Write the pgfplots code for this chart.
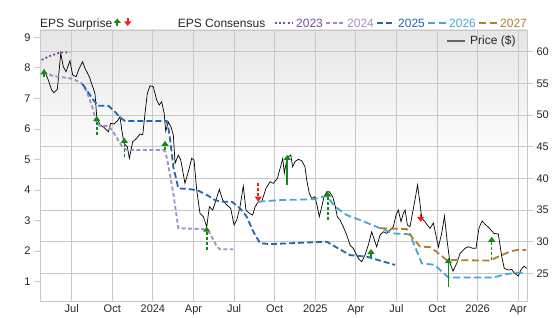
\documentclass[border=0pt]{standalone}
\usepackage{fontspec}
\setmainfont{Liberation Sans}
\usepackage{pgfplots}
\pgfplotsset{compat=1.18}
\usetikzlibrary{arrows.meta}

\definecolor{c23}{HTML}{7B4A9E}
\definecolor{c24}{HTML}{A98BC8}
\definecolor{c25}{HTML}{2366B0}
\definecolor{c26}{HTML}{46A6D6}
\definecolor{c27}{HTML}{B07F2E}
\definecolor{gup}{HTML}{138A13}
\definecolor{rdn}{HTML}{FF1A1A}
\definecolor{gridc}{HTML}{C8C8C8}

\begin{document}
\begin{tikzpicture}
\pgfplotsset{
  base/.style={scale only axis, width=487pt, height=271pt,
    xmin=3.657, xmax=39.65, at={(0pt,0pt)}, anchor=south west,
    /pgf/number format/assume math mode=true,
    tick label style={font=\fontsize{11}{13}\selectfont, color=black!85}},
  stemd/.style={line width=1.6pt, dash pattern=on 3pt off 2pt, -{Triangle[width=7pt,length=5pt]}},
  stems/.style={line width=1.6pt, -{Triangle[width=7pt,length=5pt]}},
}
% ---------------- price axis (right) ----------------
\begin{axis}[base, ymin=20.62, ymax=63.43,
  axis background/.style={top color=black!10, bottom color=white, middle color=white},
  axis line style={gridc, line width=0.8pt},
  xtick={6,9,...,39},
  xticklabels={Jul,Oct,2024,Apr,Jul,Oct,2025,Apr,Jul,Oct,2026,Apr},
  xtick pos=bottom,
  ytick={25,30,...,60}, yticklabel pos=right, ytick pos=right,
  grid=major, grid style={gridc, line width=0.8pt},
  tick align=outside, major tick length=6pt,
  xtick style={draw=none}, ytick style={draw=gridc, line width=0.8pt},
  xticklabel style={yshift=6pt}]
\addplot[black, line width=0.7pt] coordinates {
(3.95,57.22) (4.27,55.53) (4.52,53.95) (4.69,53.52) (4.94,54.06) (5.19,59.75) (5.38,57.63) (5.58,56.84) (5.87,58.58) (6.07,56.32) (6.32,56.05) (6.56,57.38) (6.81,58.42) (6.98,57.38) (7.30,56.05) (7.55,54.47) (7.72,53.43) (7.85,49.73) (8.09,48.42) (8.39,48.06) (8.71,47.36) (8.88,48.69) (9.13,48.58) (9.37,49.05) (9.57,49.73) (9.70,47.63) (9.87,45.53) (10.11,44.99) (10.26,43.16) (10.51,45.78) (10.80,46.32) (11.05,47.0) (11.25,46.89) (11.42,50.27) (11.59,53.43) (11.79,54.63) (12.03,54.47) (12.28,52.37) (12.47,51.58) (12.65,52.10) (12.83,50.3) (12.95,47.47) (13.14,48.89) (13.34,48.10) (13.51,46.84) (13.64,42.37) (13.88,43.68) (14.06,42.89) (14.37,39.21) (14.62,41.04) (14.87,43.16) (15.04,42.89) (15.24,38.15) (15.48,34.47) (15.73,33.93) (15.98,32.35) (16.17,35.51) (16.42,34.99) (16.59,36.05) (16.91,38.26) (17.16,36.57) (17.46,35.78) (17.75,35.26) (18.0,32.62) (18.20,33.41) (18.44,35.51) (18.68,38.78) (18.88,34.99) (19.13,34.47) (19.38,34.20) (19.55,35.51) (19.79,36.30) (20.04,36.30) (20.36,38.42) (20.66,39.46) (20.90,39.21) (21.20,40.0) (21.47,42.10) (21.60,43.16) (21.71,40.79) (21.89,42.89) (22.01,43.41) (22.19,43.68) (22.33,41.83) (22.50,42.62) (22.75,43.0) (23.0,42.78) (23.24,41.83) (23.37,39.73) (23.56,37.63) (23.74,36.84) (23.98,37.09) (24.15,35.51) (24.30,33.93) (24.48,35.51) (24.65,37.09) (24.85,37.88) (25.04,37.88) (25.29,37.09) (25.46,35.78) (25.63,33.93) (25.83,33.41) (26.07,32.35) (26.33,31.04) (26.57,29.46) (26.81,28.94) (27.18,27.36) (27.43,26.82) (27.68,27.88) (27.92,29.46) (28.17,31.56) (28.54,29.19) (28.79,31.04) (29.03,31.56) (29.28,31.31) (29.53,31.83) (29.77,32.35) (29.97,34.20) (30.14,34.99) (30.34,33.14) (30.51,34.47) (30.64,34.99) (30.81,32.62) (31.0,32.35) (31.37,36.57) (31.56,38.94) (31.71,36.57) (31.87,33.68) (32.11,33.14) (32.28,32.62) (32.48,32.10) (32.73,32.94) (33.10,29.15) (33.35,31.36) (33.55,34.04) (33.74,30.25) (33.96,26.57) (34.18,25.36) (34.46,26.57) (34.70,28.15) (35.07,28.94) (35.31,29.19) (35.64,28.94) (35.88,28.94) (36.10,32.15) (36.33,33.25) (36.62,32.62) (36.87,32.10) (37.21,31.31) (37.53,31.20) (37.80,27.41) (37.97,25.78) (38.27,25.51) (38.52,25.62) (38.69,25.09) (39.01,24.57) (39.19,25.51) (39.43,26.14) (39.63,25.78)
};
\end{axis}
% ---------------- EPS axis (left) ----------------
\begin{axis}[base, ymin=0.368, ymax=9.239,
  axis line style={draw=none},
  xtick=\empty,
  ytick={1,...,9}, ytick pos=left,
  tick align=outside, major tick length=6pt,
  ytick style={draw=gridc, line width=0.8pt}]
% 2023
\addplot[c23, line width=1.8pt, dash pattern=on 2pt off 2.2pt] coordinates {
(3.78,8.26) (4.40,8.39) (5.14,8.50) (5.87,8.50)};
% 2024
\addplot[c24, line width=1.8pt, dash pattern=on 4pt off 2.5pt] coordinates {
(3.90,7.87) (4.64,7.73) (5.87,7.66) (6.37,7.58) (6.74,7.49) (7.11,7.22) (7.48,6.78) (7.85,6.18) (8.09,6.10) (8.71,6.10) (9.07,5.91) (9.57,5.53) (9.81,5.37) (10.11,5.31) (12.77,5.31) (12.92,5.25) (13.07,4.98) (13.51,3.89) (13.88,2.75) (15.73,2.72) (16.22,2.58) (16.72,2.15) (16.96,2.06) (17.94,2.06)};
% 2025
\addplot[c25, line width=1.8pt, dash pattern=on 6pt off 3pt] coordinates {
(6.80,7.47) (7.11,7.27) (7.60,6.95) (7.97,6.76) (8.71,6.76) (9.20,6.56) (9.57,6.38) (9.94,6.26) (13.02,6.26) (13.14,6.05) (13.31,5.53) (13.51,4.76) (13.88,4.06) (14.87,4.02) (15.36,3.98) (15.98,3.84) (16.59,3.67) (17.09,3.62) (17.83,3.62) (18.44,3.40) (18.93,3.13) (19.42,2.64) (19.92,2.26) (20.66,2.23) (24.84,2.31) (25.46,2.15) (26.33,1.93) (26.57,1.87) (27.80,1.82) (28.79,1.69) (29.90,1.55)};
% 2026
\addplot[c26, line width=1.8pt, dash pattern=on 7pt off 3.5pt] coordinates {
(19.79,3.62) (21.40,3.67) (23.86,3.70) (24.84,3.81) (25.46,3.46) (26.33,3.18) (27.31,3.02) (28.79,2.75) (29.77,2.58) (30.76,2.56) (31.0,2.53) (31.37,2.15) (31.87,1.60) (32.86,1.55) (33.35,1.33) (33.84,1.14) (37.16,1.14) (38.15,1.25) (38.89,1.29) (39.58,1.29)};
% 2027
\addplot[c27, line width=1.8pt, dash pattern=on 7pt off 3.5pt] coordinates {
(28.79,2.75) (30.76,2.72) (31.13,2.47) (31.74,2.15) (32.48,2.13) (32.97,1.98) (33.70,1.71) (36.89,1.69) (37.63,1.84) (38.37,1.98) (38.89,2.04) (39.58,2.04)};
% EPS surprises
\addplot[gup, stemd] coordinates {(3.95,7.71) (3.95,7.95)};
\addplot[gup, stemd] coordinates {(7.85,5.80) (7.85,6.42)};
\addplot[gup, stemd] coordinates {(9.89,5.07) (9.89,5.71)};
\addplot[gup, stemd] coordinates {(12.90,5.31) (12.90,5.61)};
\addplot[gup, stemd] coordinates {(15.98,2.04) (15.98,2.80)};
\addplot[rdn, stemd] coordinates {(19.79,4.22) (19.79,3.62)};
\addplot[gup, stems] coordinates {(21.93,4.17) (21.93,5.15)};
\addplot[gup, stemd] coordinates {(24.92,3.02) (24.92,3.95)};
\addplot[gup, stemd] coordinates {(28.12,1.82) (28.12,2.07)};
\addplot[rdn, stemd] coordinates {(31.79,3.22) (31.79,2.96)};
\addplot[gup, stems] coordinates {(33.84,0.84) (33.84,1.77)};
\addplot[gup, stemd] coordinates {(37.04,1.71) (37.04,2.47)};
\end{axis}
% ---------------- legends ----------------
\begin{scope}[font=\fontsize{12}{14}\selectfont, x=1pt, y=1pt]
\node[anchor=base west, inner sep=0pt, text=black!85] at (0,273.7) {EPS Surprise};
\draw[gup, line width=1.8pt, -{Triangle[width=7pt,length=4.5pt]}] (77.3,275) -- (77.3,282.5);
\draw[rdn, line width=1.8pt, -{Triangle[width=7pt,length=4.5pt]}] (87.7,282.5) -- (87.7,275);
\node[anchor=base west, inner sep=0pt, text=black!85] at (137.7,273.7) {EPS Consensus};
\draw[c23, line width=1.8pt, dash pattern=on 2pt off 2.2pt] (235,278) -- (253,278);
\node[anchor=base west, inner sep=0pt, text=c23] at (256,273.7) {2023};
\draw[c24, line width=1.8pt, dash pattern=on 4pt off 2.5pt] (286,278) -- (304,278);
\node[anchor=base west, inner sep=0pt, text=c24] at (307,273.7) {2024};
\draw[c25, line width=1.8pt, dash pattern=on 6pt off 3pt] (337,278) -- (355,278);
\node[anchor=base west, inner sep=0pt, text=c25] at (358,273.7) {2025};
\draw[c26, line width=1.8pt, dash pattern=on 7pt off 3.5pt] (388,278) -- (406,278);
\node[anchor=base west, inner sep=0pt, text=c26] at (409,273.7) {2026};
\draw[c27, line width=1.8pt, dash pattern=on 7pt off 3.5pt] (439,278) -- (457,278);
\node[anchor=base west, inner sep=0pt, text=c27] at (460,273.7) {2027};
\draw[black!60, line width=1.8pt] (407,260) -- (425,260);
\node[anchor=west, inner sep=0pt, text=black!85] at (430,260) {Price (\$)};
\path (-40,-14) rectangle (516,301);
\end{scope}
\end{tikzpicture}
\end{document}
